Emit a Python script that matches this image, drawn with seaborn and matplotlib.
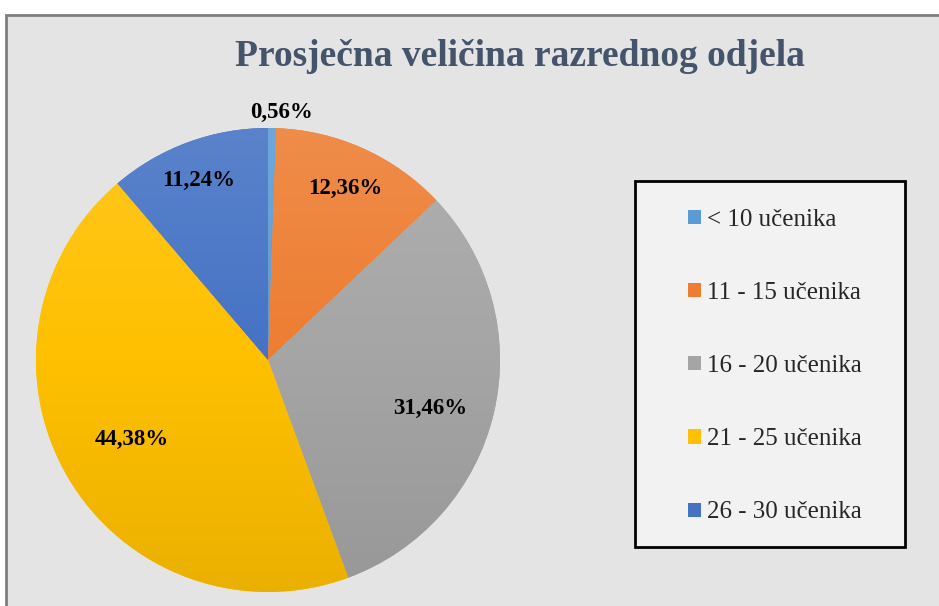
import matplotlib.pyplot as plt
import numpy as np
import seaborn as sns
from matplotlib.colors import LinearSegmentedColormap, to_rgb
from matplotlib.patches import Rectangle

categories = ["< 10 učenika", "11 - 15 učenika", "16 - 20 učenika", "21 - 25 učenika", "26 - 30 učenika"]
shares = [0.56, 12.36, 31.46, 44.38, 11.24]
share_labels = ["0,56%", "12,36%", "31,46%", "44,38%", "11,24%"]
colors = ["#5b9bd5", "#ed7d31", "#a5a5a5", "#ffc000", "#4472c4"]

# label placement (radius in pie units, angle shift in degrees) to mimic Excel "best fit"
LABEL_RADII = [1.07, 0.81, 0.73, 0.68, 0.83]
LABEL_SHIFT = [-2.0, 0.0, -3.4, 0.0, 1.0]

W, H = 939, 606
SERIF = ["Liberation Serif", "DejaVu Serif"]

sns.set_style("white")
plt.rcParams["font.family"] = SERIF

fig = plt.figure(figsize=(W / 100, H / 100), dpi=100)
fig.patch.set_facecolor("white")

# chart area background with grey border
fig.patches.append(
    Rectangle((6 / W, -0.01), 1.0, (H - 15) / H + 0.01, transform=fig.transFigure,
              facecolor="#e4e4e4", edgecolor="#7f7f7f", linewidth=2, zorder=-2)
)

fig.text(520 / W, 1 - 57 / H, "Prosječna veličina razrednog odjela",
         ha="center", va="center", fontsize=27, fontweight="bold", color="#44546a")

# pie: centre (268, 360) px, radius 232 px
cx, cy, r = 268, 360, 232
ax = fig.add_axes([(cx - r) / W, (H - cy - r) / H, 2 * r / W, 2 * r / H])
ax.set_zorder(2)
ax.axis("off")

wedges, _ = ax.pie(shares, colors=colors, startangle=90, counterclock=False,
                   radius=1, wedgeprops=dict(linewidth=0))
ax.set_xlim(-1, 1)
ax.set_ylim(-1, 1)

# Excel-like vertical gradient: lighter at top, darker at bottom
grad = np.linspace(0, 1, 256).reshape(-1, 1)
for w, c in zip(wedges, colors):
    base = np.array(to_rgb(c))
    top = base + (1 - base) * 0.12
    bottom = base * 0.92
    cmap = LinearSegmentedColormap.from_list("g", [bottom, base, top])
    im = ax.imshow(grad, cmap=cmap, extent=(-1, 1, -1, 1), origin="lower",
                   aspect="auto", zorder=w.get_zorder() + 0.1)
    im.set_clip_path(w)

for w, lab, rr, sh in zip(wedges, share_labels, LABEL_RADII, LABEL_SHIFT):
    ang = np.deg2rad((w.theta1 + w.theta2) / 2 + sh)
    ax.text(rr * np.cos(ang), rr * np.sin(ang), lab, ha="center", va="center",
            fontsize=16.5, fontweight="bold", color="black", zorder=10)

# legend box
fig.patches.append(
    Rectangle((635 / W, 1 - 547 / H), 270 / W, 366 / H, transform=fig.transFigure,
              facecolor="#f2f2f2", edgecolor="black", linewidth=2, zorder=1)
)
leg = fig.legend(wedges, categories, loc="center left",
                 bbox_to_anchor=(688 / W, 1 - 366 / H), frameon=False,
                 fontsize=18, handlelength=0.5, handleheight=0.5,
                 handletextpad=0.25, labelspacing=2.05, borderpad=0, borderaxespad=0)
leg.set_zorder(5)

fig.savefig("out.png", dpi=100)
